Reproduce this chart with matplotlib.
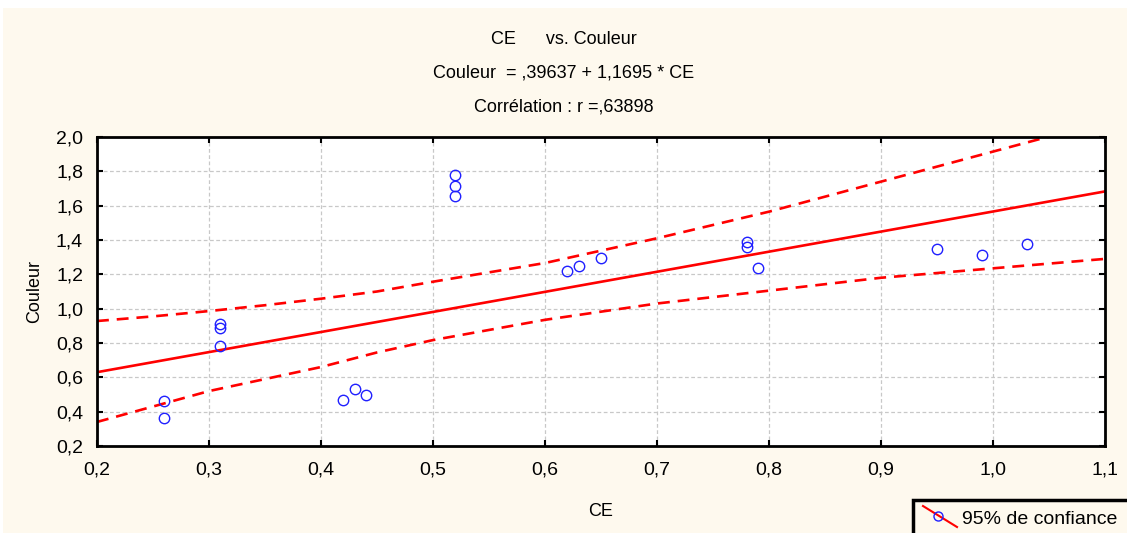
import matplotlib.pyplot as plt
from matplotlib.patches import Rectangle
from matplotlib.lines import Line2D
from matplotlib.ticker import FuncFormatter

plt.rcParams['font.family'] = ['Liberation Sans', 'DejaVu Sans']

ce = [0.26, 0.26, 0.31, 0.31, 0.31, 0.42, 0.43, 0.44, 0.52, 0.52, 0.52,
      0.62, 0.63, 0.65, 0.78, 0.78, 0.79, 0.95, 0.99, 1.03]
couleur = [0.46, 0.365, 0.91, 0.89, 0.78, 0.47, 0.53, 0.50, 1.78, 1.715, 1.655,
           1.22, 1.25, 1.295, 1.39, 1.36, 1.235, 1.345, 1.31, 1.375]

# regression line end points
fit_x = [0.2, 1.1]
fit_y = [0.63, 1.683]

# 95% confidence bands
band_x = [0.2, 0.25, 0.3, 0.35, 0.4, 0.45, 0.5, 0.6, 0.7, 0.8, 0.9, 1.0, 1.1]
band_up = [0.928, 0.955, 0.986, 1.02, 1.058, 1.10, 1.157, 1.266, 1.41, 1.565, 1.74, 1.915, 2.09]
band_lo = [0.34, 0.43, 0.52, 0.59, 0.66, 0.745, 0.817, 0.935, 1.03, 1.105, 1.18, 1.235, 1.29]

cream = '#fef9ee'
fs = 13
tfs = 14

fig = plt.figure(figsize=(11.27, 5.33), dpi=100, facecolor=cream)
# thin white strips at the top and left edge
fig.patches.append(Rectangle((0, 1 - 8 / 533), 1, 8 / 533, transform=fig.transFigure,
                             facecolor='white', edgecolor='none', zorder=-5))
fig.patches.append(Rectangle((0, 0), 3 / 1127, 1, transform=fig.transFigure,
                             facecolor='white', edgecolor='none', zorder=-5))

ax = fig.add_axes([97 / 1127, 87 / 533, 1008 / 1127, 309 / 533])
ax.set_facecolor('white')

ax.plot(band_x, band_up, color='red', lw=1.9, dashes=(4.5, 3))
ax.plot(band_x, band_lo, color='red', lw=1.9, dashes=(4.5, 3))
ax.plot(fit_x, fit_y, color='red', lw=1.9)
ax.plot(ce, couleur, 'o', ms=7.5, mfc='none', mec='#2020ff', mew=1.0)

ax.set_xlim(0.2, 1.1)
ax.set_ylim(0.2, 2.0)
ax.set_xticks([0.2, 0.3, 0.4, 0.5, 0.6, 0.7, 0.8, 0.9, 1.0, 1.1])
ax.set_yticks([0.2, 0.4, 0.6, 0.8, 1.0, 1.2, 1.4, 1.6, 1.8, 2.0])
comma = FuncFormatter(lambda v, p: f'{v:.1f}'.replace('.', ','))
ax.xaxis.set_major_formatter(comma)
ax.yaxis.set_major_formatter(comma)
ax.tick_params(direction='in', length=4, width=1.5, top=True, right=True,
               labelsize=tfs)
ax.tick_params(axis='x', pad=11)
ax.tick_params(axis='y', pad=10)
ax.grid(True, color='#c8c8c8', linestyle=(0, (3, 2)), lw=0.9)
for s in ax.spines.values():
    s.set_linewidth(2)

ax.set_xlabel('CE', fontsize=fs, labelpad=18)
ax.set_ylabel('Couleur', fontsize=fs, labelpad=9)

fig.text(0.5, 1 - 40 / 533, 'CE      vs. Couleur', ha='center', va='center', fontsize=fs)
fig.text(0.5, 1 - 73 / 533, 'Couleur  = ,39637 + 1,1695 * CE', ha='center', va='center', fontsize=fs)
fig.text(0.5, 1 - 107 / 533, 'Corrélation : r =,63898', ha='center', va='center', fontsize=fs)

# legend box at the lower right
fig.patches.append(Rectangle((913 / 1127, -0.01), 0.2, 1 - 500 / 533 + 0.01, transform=fig.transFigure,
                             facecolor=cream, edgecolor='black', lw=2.5, zorder=3))
fig.lines.append(Line2D([923 / 1127, 957 / 1127], [1 - 506 / 533, 1 - 527 / 533],
                        transform=fig.transFigure, color='red', lw=1.5, zorder=4))
fig.lines.append(Line2D([938 / 1127], [1 - 516 / 533], transform=fig.transFigure,
                        marker='o', ms=6.5, mfc='none', mec='#2020ff', mew=1.0,
                        ls='none', zorder=5))
fig.text(962 / 1127, 1 - 519 / 533, '95% de confiance', ha='left', va='center',
         fontsize=14, zorder=6)

fig.savefig('out.png', dpi=100, facecolor=fig.get_facecolor())
